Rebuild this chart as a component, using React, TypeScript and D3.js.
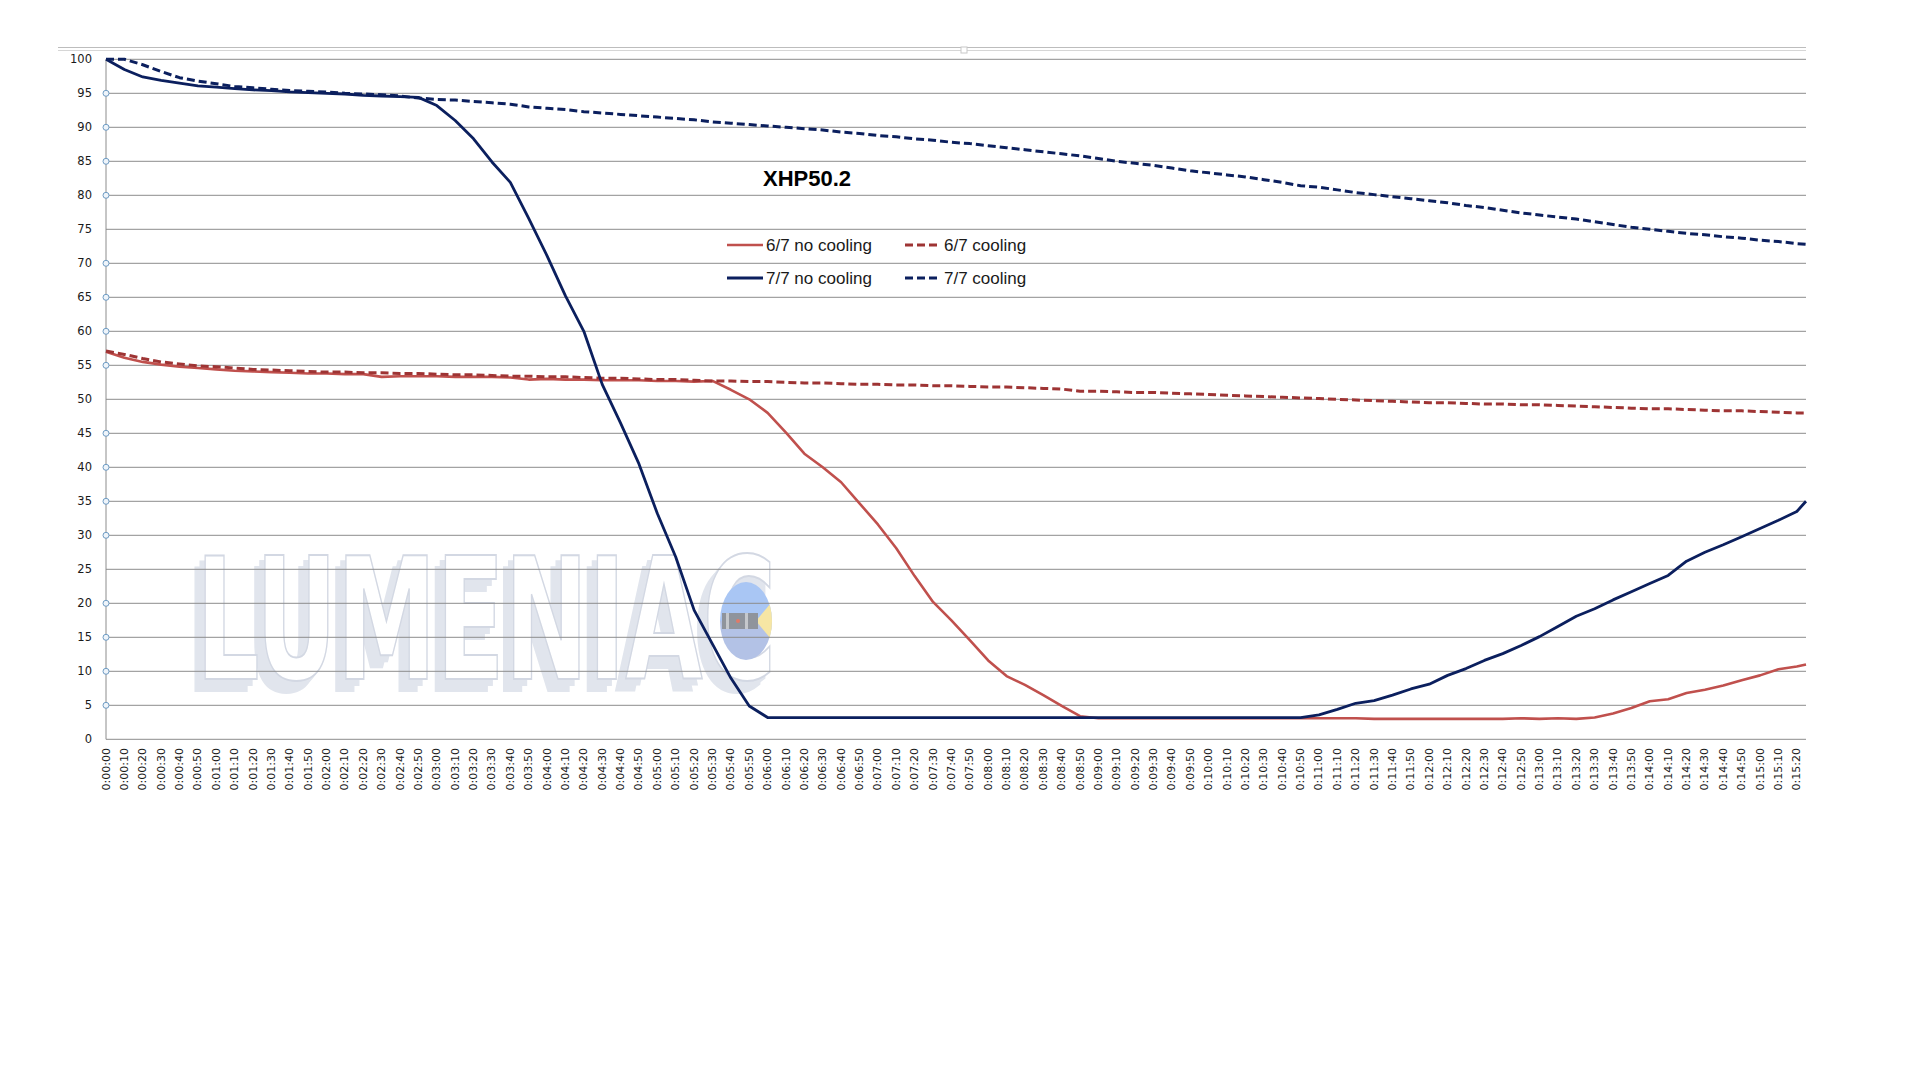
import React from "react";
import * as d3 from "d3";

// ---- data ----
const times: number[] = d3.range(0, 921, 10).concat([925]); // seconds

const redNoCooling = [
  57.0, 56.1, 55.5, 55.1, 54.8, 54.6, 54.4, 54.2, 54.1, 54.0,
  53.9, 53.8, 53.8, 53.7, 53.7, 53.3, 53.4, 53.4, 53.4, 53.3,
  53.3, 53.3, 53.2, 52.9, 53.0, 52.9, 52.9, 52.8, 52.8, 52.8,
  52.7, 52.7, 52.6, 52.7, 51.4, 50.0, 48.0, 45.1, 42.0, 40.0,
  37.8, 34.7, 31.6, 28.1, 24.0, 20.2, 17.5, 14.6, 11.6, 9.3,
  8.0, 6.5, 4.9, 3.4, 3.1, 3.1, 3.1, 3.1, 3.1, 3.1,
  3.1, 3.1, 3.1, 3.1, 3.1, 3.1, 3.1, 3.1, 3.1, 3.0,
  3.0, 3.0, 3.0, 3.0, 3.0, 3.0, 3.0, 3.1, 3.0, 3.1,
  3.0, 3.2, 3.8, 4.6, 5.6, 5.9, 6.8, 7.3, 7.9, 8.7,
  9.4, 10.3, 10.7, 11.0,
];

const redCooling = [
  57.1, 56.6, 56.0, 55.5, 55.2, 54.9, 54.8, 54.6, 54.4, 54.3,
  54.2, 54.1, 54.0, 54.0, 53.9, 53.9, 53.8, 53.8, 53.7, 53.6,
  53.6, 53.5, 53.4, 53.4, 53.3, 53.3, 53.2, 53.1, 53.1, 53.0,
  52.9, 52.9, 52.8, 52.7, 52.7, 52.6, 52.6, 52.5, 52.4, 52.4,
  52.3, 52.2, 52.2, 52.1, 52.1, 52.0, 52.0, 51.9, 51.8, 51.8,
  51.7, 51.6, 51.5, 51.2, 51.2, 51.1, 51.0, 51.0, 50.9, 50.8,
  50.7, 50.6, 50.5, 50.4, 50.3, 50.2, 50.1, 50.0, 49.9, 49.8,
  49.7, 49.6, 49.5, 49.5, 49.4, 49.3, 49.3, 49.2, 49.2, 49.1,
  49.0, 48.9, 48.8, 48.7, 48.6, 48.6, 48.5, 48.4, 48.3, 48.3,
  48.2, 48.1, 48.0, 48.0,
];

const blueNoCooling = [
  100, 98.5, 97.4, 96.9, 96.5, 96.1, 95.9, 95.7, 95.5, 95.4,
  95.2, 95.1, 95.0, 94.9, 94.7, 94.6, 94.5, 94.4, 93.2, 91.0,
  88.3, 84.9, 81.9, 76.6, 71.1, 65.2, 60.0, 52.2, 46.5, 40.5,
  33.2, 26.8, 19.0, 14.0, 9.0, 4.9, 3.2, 3.2, 3.2, 3.2,
  3.2, 3.2, 3.2, 3.2, 3.2, 3.2, 3.2, 3.2, 3.2, 3.2,
  3.2, 3.2, 3.2, 3.2, 3.2, 3.2, 3.2, 3.2, 3.2, 3.2,
  3.2, 3.2, 3.2, 3.2, 3.2, 3.2, 3.6, 4.4, 5.3, 5.7,
  6.5, 7.4, 8.1, 9.4, 10.4, 11.6, 12.6, 13.8, 15.1, 16.6,
  18.1, 19.2, 20.5, 21.7, 22.9, 24.1, 26.2, 27.5, 28.6, 29.8,
  31.0, 32.2, 33.5, 35.0,
];

const blueCooling = [
  100, 100, 99.2, 98.2, 97.3, 96.8, 96.4, 96.0, 95.8, 95.6,
  95.4, 95.3, 95.2, 95.0, 94.9, 94.8, 94.6, 94.3, 94.1, 94.0,
  93.8, 93.6, 93.4, 93.0, 92.8, 92.6, 92.3, 92.1, 91.9, 91.7,
  91.5, 91.3, 91.1, 90.8, 90.6, 90.4, 90.2, 90.0, 89.8, 89.6,
  89.3, 89.1, 88.8, 88.6, 88.3, 88.1, 87.8, 87.6, 87.3, 87.0,
  86.7, 86.4, 86.1, 85.8, 85.4, 85.0, 84.7, 84.4, 84.0, 83.6,
  83.3, 83.0, 82.7, 82.3, 81.9, 81.4, 81.2, 80.8, 80.4, 80.1,
  79.8, 79.5, 79.2, 78.9, 78.5, 78.2, 77.8, 77.4, 77.1, 76.8,
  76.5, 76.1, 75.7, 75.3, 75.0, 74.7, 74.4, 74.2, 73.9, 73.7,
  73.4, 73.2, 72.9, 72.8,
];

const yTicks: number[] = d3.range(0, 101, 5);
const xTickSeconds: number[] = d3.range(0, 921, 10);
const markerTicks = [95, 90, 85, 80, 70, 65, 60, 55, 45, 40, 35, 30, 20, 15, 10, 5];

const seriesNames = ["6/7 no cooling", "6/7 cooling", "7/7 no cooling", "7/7 cooling"];

const fmtTime = (s: number) => {
  const m = Math.floor(s / 60);
  const ss = s % 60;
  return `0:${String(m).padStart(2, "0")}:${String(ss).padStart(2, "0")}`;
};

export default function App() {
  const left = 106, right = 1806, top = 59.3, bottom = 739.3;
  const x = d3.scaleLinear().domain([0, 925]).range([left, right]);
  const y = d3.scaleLinear().domain([0, 100]).range([bottom, top]);
  const line = d3
    .line<number>()
    .x((_, i) => x(times[i]))
    .y((v) => y(v));

  const RED = "#C0504D";
  const RED_D = "#9E3434";
  const BLUE = "#0B1F5E";

  const series = [
    { name: seriesNames[0], data: redNoCooling, color: RED, dash: undefined, w: 2.6 },
    { name: seriesNames[1], data: redCooling, color: RED_D, dash: "8,4", w: 3 },
    { name: seriesNames[2], data: blueNoCooling, color: BLUE, dash: undefined, w: 2.8 },
    { name: seriesNames[3], data: blueCooling, color: BLUE, dash: "8,4", w: 3 },
  ];

  const legendPos = [
    { lx: 727, ly: 245 },
    { lx: 905, ly: 245 },
    { lx: 727, ly: 278 },
    { lx: 905, ly: 278 },
  ];

  return (
    <svg
      width={1920}
      height={1080}
      style={{ position: "absolute", left: 0, top: 0, background: "#fff" }}
    >
      <defs>
        <filter id="wmShadow" x="-5%" y="-10%" width="110%" height="130%">
          <feOffset in="SourceAlpha" dx={-5} dy={6} result="o1" />
          <feOffset in="SourceAlpha" dx={-10} dy={12} result="o2" />
          <feMerge result="ext">
            <feMergeNode in="o1" />
            <feMergeNode in="o2" />
          </feMerge>
          <feFlood floodColor="#e1e5ed" />
          <feComposite in2="ext" operator="in" result="shadow" />
          <feMerge>
            <feMergeNode in="shadow" />
            <feMergeNode in="SourceGraphic" />
          </feMerge>
        </filter>
        <clipPath id="logoClip">
          <ellipse cx={746} cy={621} rx={26} ry={39} />
        </clipPath>
      </defs>
      <rect x={0} y={0} width={1920} height={1080} fill="#fff" />
      {/* top frame lines */}
      <line x1={58} x2={1806} y1={47.5} y2={47.5} stroke="#bdbdbd" strokeWidth={1.2} />
      <line x1={58} x2={1806} y1={50.5} y2={50.5} stroke="#d6d6d6" strokeWidth={1.2} />
      <rect x={961} y={47} width={6} height={6} fill="#fff" stroke="#c8c8c8" strokeWidth={1} />

      {/* watermark */}
      <text
        x={196}
        y={679}
        fontFamily="DejaVu Sans Condensed, DejaVu Sans, sans-serif"
        fontWeight="bold"
        fontSize={170}
        textLength={580}
        lengthAdjust="spacingAndGlyphs"
        fill="#ffffff"
        stroke="#d3d8e3"
        strokeWidth={2}
        filter="url(#wmShadow)"
      >
        LUMENIAC
      </text>
      {/* logo */}
      <g>
        <g clipPath="url(#logoClip)">
          <rect x={715} y={580} width={62} height={41} fill="#a9c6f4" />
          <rect x={715} y={621} width={62} height={42} fill="#b3c2e6" />
          <polygon points="756,621 780,592 780,650" fill="#f6e6a4" />
        </g>
        <rect x={722} y={613} width={36} height={16} fill="#8f949c" />
        <rect x={726} y={613} width={3} height={16} fill="#c5c8cc" />
        <rect x={745} y={613} width={3} height={16} fill="#c5c8cc" />
        <circle cx={738} cy={621} r={2} fill="#e07a68" />
      </g>

      {/* gridlines */}
      {yTicks.map((t) => (
        <line key={t} x1={left} x2={right} y1={y(t)} y2={y(t)} stroke="#8c8c8c" strokeWidth={1} />
      ))}
      <line x1={left} x2={left} y1={top} y2={bottom} stroke="#8c8c8c" strokeWidth={1} />

      {/* y labels */}
      <g fontFamily="DejaVu Sans, Verdana, sans-serif" fontSize={11.5} fill="#1a1a1a">
        {yTicks.map((t) => (
          <text key={t} x={92} y={y(t)} textAnchor="end" dominantBaseline="central">
            {t}
          </text>
        ))}
      </g>
      {/* y axis markers */}
      {markerTicks.map((t) => (
        <circle key={t} cx={left} cy={y(t)} r={3} fill="#eef4fa" stroke="#6f9cc4" strokeWidth={1} />
      ))}

      {/* x labels */}
      <g fontFamily="DejaVu Sans, Verdana, sans-serif" fontSize={11} fill="#1a1a1a">
        {xTickSeconds.map((s) => (
          <text
            key={s}
            transform={`translate(${x(s)},748) rotate(-90)`}
            textAnchor="end"
            dominantBaseline="central"
          >
            {fmtTime(s)}
          </text>
        ))}
      </g>

      {/* series */}
      {series.map((s) => (
        <path
          key={s.name}
          d={line(s.data) || ""}
          fill="none"
          stroke={s.color}
          strokeWidth={s.w}
          strokeDasharray={s.dash}
          strokeLinejoin="round"
        />
      ))}

      {/* title */}
      <text x={763} y={186} fontFamily="Liberation Sans, Arial, sans-serif" fontWeight="bold" fontSize={22} fill="#000">
        XHP50.2
      </text>

      {/* legend */}
      <g fontFamily="Liberation Sans, Arial, sans-serif" fontSize={17} fill="#1a1a1a">
        {series.map((s, i) => (
          <g key={s.name}>
            <line
              x1={legendPos[i].lx}
              x2={legendPos[i].lx + 36}
              y1={legendPos[i].ly}
              y2={legendPos[i].ly}
              stroke={s.color}
              strokeWidth={s.w}
              strokeDasharray={s.dash}
            />
            <text x={legendPos[i].lx + 39} y={legendPos[i].ly} dominantBaseline="central">
              {s.name}
            </text>
          </g>
        ))}
      </g>
    </svg>
  );
}
